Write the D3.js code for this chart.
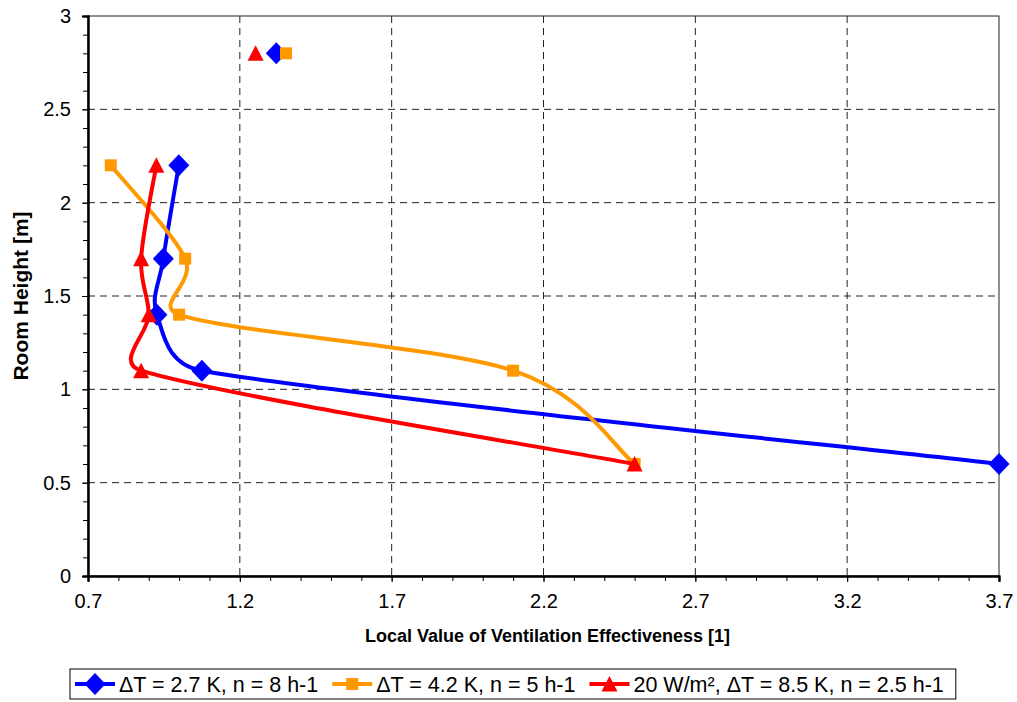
<!DOCTYPE html>
<html>
<head>
<meta charset="utf-8">
<script src="https://cdn.jsdelivr.net/npm/d3@7"></script>
<style>
  body { margin: 0; background: #fff; }
  svg text { font-family: "Liberation Sans", Arial, sans-serif; }
</style>
</head>
<body>
<div id="graph"></div>
<script>
// room heights (y), the 2.5 row is empty in the source sheet -> gap
const heights = [0.6, 1.1, 1.4, 1.7, 2.2, 2.5, 2.8];
const blueVals = [3.7, 1.075, 0.927, 0.948, 0.999, null, 1.32];
const orangeVals = [2.5, 2.1, 1.0, 1.02, 0.775, null, 1.352];
const redVals = [2.5, 0.875, 0.9, 0.875, 0.925, null, 1.252];

const seriesNames = [
  "\u0394T = 2.7 K, n = 8 h-1",
  "\u0394T = 4.2 K, n = 5 h-1",
  "20 W/m\u00b2, \u0394T = 8.5 K, n = 2.5 h-1"
];
const seriesColors = ["#0000ff", "#ff9900", "#ff0000"];
const seriesShapes = ["diamond", "square", "triangle"];

const xTicks = [0.7, 1.2, 1.7, 2.2, 2.7, 3.2, 3.7];
const yTicks = [0, 0.5, 1, 1.5, 2, 2.5, 3];

const margin = { top: 16, right: 18, bottom: 126, left: 88 },
  width = 1017 - margin.left - margin.right,
  height = 702 - margin.top - margin.bottom;

const svg = d3
  .select("#graph")
  .append("svg")
  .attr("width", 1017)
  .attr("height", 702);

const g = svg.append("g")
  .attr("transform", "translate(" + margin.left + "," + margin.top + ")");

const x = d3.scaleLinear().domain([0.7, 3.7]).range([0, width]);
const y = d3.scaleLinear().domain([0, 3]).range([height, 0]);

// dashed grid
g.append("g")
  .selectAll("line")
  .data(xTicks.slice(1, -1))
  .enter()
  .append("line")
  .attr("x1", d => x(d)).attr("x2", d => x(d))
  .attr("y1", 0).attr("y2", height)
  .attr("stroke", "#222").attr("stroke-dasharray", "7,5");

g.append("g")
  .selectAll("line")
  .data(yTicks.slice(1, -1))
  .enter()
  .append("line")
  .attr("y1", d => y(d)).attr("y2", d => y(d))
  .attr("x1", 0).attr("x2", width)
  .attr("stroke", "#222").attr("stroke-dasharray", "7,5");

// plot border
g.append("rect")
  .attr("width", width).attr("height", height)
  .attr("fill", "none").attr("stroke", "#222").attr("stroke-width", 1);

// minor ticks
const xMinor = d3.range(0.7, 3.71, 0.1);
const yMinor = d3.range(0, 3.01, 0.1);

g.append("g")
  .attr("transform", "translate(0," + height + ")")
  .call(d3.axisBottom(x).tickValues(xMinor).tickSize(5).tickFormat(""));
g.append("g")
  .attr("transform", "translate(0," + height + ")")
  .call(d3.axisBottom(x).tickValues(xTicks).tickSize(6).tickPadding(12).tickFormat(d3.format(".1f")));

g.append("g")
  .call(d3.axisLeft(y).tickValues(yMinor).tickSize(5).tickFormat(""));
g.append("g")
  .call(d3.axisLeft(y).tickValues(yTicks).tickSize(6).tickPadding(11).tickFormat(d3.format("")));

g.selectAll(".domain").attr("stroke", "#000").attr("stroke-width", 2);
g.selectAll(".tick line").attr("stroke", "#000");
g.selectAll(".tick text").attr("font-size", 20).attr("fill", "#000")
  .style("font-family", "'Liberation Sans', Arial, sans-serif");

// axis titles
svg.append("text")
  .attr("x", margin.left + width / 2 + 4)
  .attr("y", 642)
  .attr("text-anchor", "middle")
  .attr("font-size", 18)
  .attr("font-weight", "bold")
  .text("Local Value of Ventilation Effectiveness [1]");

svg.append("text")
  .attr("transform", "rotate(-90)")
  .attr("x", -(margin.top + height / 2))
  .attr("y", 28)
  .attr("text-anchor", "middle")
  .attr("font-size", 21)
  .attr("font-weight", "bold")
  .text("Room Height [m]");

// marker shapes
function shapePath(kind) {
  if (kind === "diamond") return "M0,-11L10.5,0L0,11L-10.5,0Z";
  if (kind === "square") return "M-6,-6H6V6H-6Z";
  return "M0,-8L8,7.5L-8,7.5Z";
}

// spreadsheet-style smoothing: catmull-rom tangents, arms clamped to half the segment
function smoothPath(pts) {
  const p = d3.path();
  const n = pts.length;
  if (n < 2) return "";
  p.moveTo(pts[0][0], pts[0][1]);
  for (let i = 0; i < n - 1; i++) {
    const p0 = pts[Math.max(i - 1, 0)], p1 = pts[i], p2 = pts[i + 1], p3 = pts[Math.min(i + 2, n - 1)];
    const d12 = Math.hypot(p2[0] - p1[0], p2[1] - p1[1]);
    const t1 = [p2[0] - p0[0], p2[1] - p0[1]], l1 = Math.hypot(t1[0], t1[1]);
    const t2 = [p3[0] - p1[0], p3[1] - p1[1]], l2 = Math.hypot(t2[0], t2[1]);
    const a1 = l1 > 0 ? Math.min(l1 / 6, d12 / 2) / l1 : 0;
    const a2 = l2 > 0 ? Math.min(l2 / 6, d12 / 2) / l2 : 0;
    p.bezierCurveTo(
      p1[0] + t1[0] * a1, p1[1] + t1[1] * a1,
      p2[0] - t2[0] * a2, p2[1] - t2[1] * a2,
      p2[0], p2[1]);
  }
  return p.toString();
}

function seriesPath(pts) {
  // split on empty cells
  let out = "", run = [];
  pts.forEach(function (d) {
    if (d.v === null) { out += smoothPath(run); run = []; }
    else run.push([x(d.v), y(d.h)]);
  });
  return out + smoothPath(run);
}

const allVals = [blueVals, orangeVals, redVals];

allVals.forEach(function (vals, i) {
  const pts = vals.map((v, k) => ({ v: v, h: heights[k] }));
  g.append("path")
    .attr("d", seriesPath(pts))
    .attr("fill", "none")
    .attr("stroke", seriesColors[i])
    .attr("stroke-width", 4)
    .attr("stroke-linejoin", "round");
  g.append("g")
    .selectAll("path")
    .data(pts.filter(d => d.v !== null))
    .enter()
    .append("path")
    .attr("transform", d => "translate(" + x(d.v) + "," + y(d.h) + ")")
    .attr("d", shapePath(seriesShapes[i]))
    .attr("fill", seriesColors[i]);
});

// legend
const legend = svg.append("g");
const legendBox = legend.append("rect")
  .attr("y", 669).attr("height", 30)
  .attr("fill", "#fff").attr("stroke", "#000").attr("stroke-width", 1);

let lx = 75;
seriesNames.forEach(function (name, i) {
  legend.append("line")
    .attr("x1", lx).attr("x2", lx + 40)
    .attr("y1", 684).attr("y2", 684)
    .attr("stroke", seriesColors[i]).attr("stroke-width", 4);
  legend.append("path")
    .attr("transform", "translate(" + (lx + 20) + ",684)")
    .attr("d", shapePath(seriesShapes[i]))
    .attr("fill", seriesColors[i]);
  const t = legend.append("text")
    .attr("x", lx + 44)
    .attr("y", 692)
    .attr("font-size", 21.5)
    .text(name);
  lx = lx + 44 + t.node().getComputedTextLength() + 14;
});
legendBox.attr("x", 70).attr("width", lx - 14 + 12 - 70);
</script>
</body>
</html>
